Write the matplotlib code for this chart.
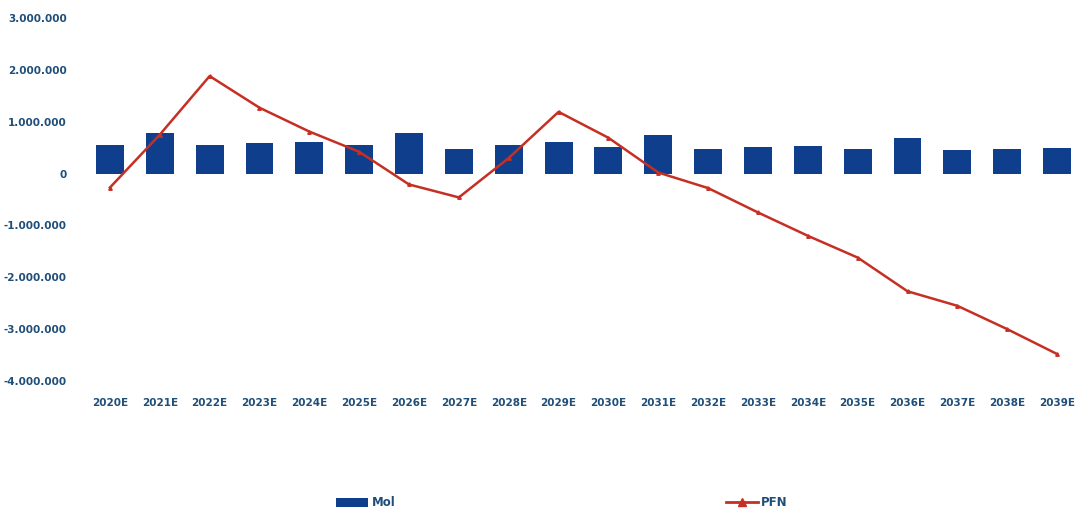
import numpy as np
import matplotlib.pyplot as plt
from matplotlib.ticker import FuncFormatter

years = ["2020E", "2021E", "2022E", "2023E", "2024E", "2025E", "2026E", "2027E", "2028E", "2029E",
         "2030E", "2031E", "2032E", "2033E", "2034E", "2035E", "2036E", "2037E", "2038E", "2039E"]
mol = [560000, 790000, 560000, 580000, 600000, 560000, 790000, 480000, 560000, 600000,
       520000, 750000, 480000, 520000, 540000, 480000, 690000, 460000, 480000, 500000]
pfn = [-270000, 750000, 1880000, 1270000, 810000, 420000, -210000, -460000, 300000, 1190000,
       690000, 20000, -280000, -750000, -1200000, -1620000, -2270000, -2550000, -3000000, -3480000]

txt_color = "#1f4e79"
bar_color = "#0f3f8c"
line_color = "#c62f24"

fig = plt.figure(figsize=(10.77, 5.13), dpi=100)
ax = fig.add_axes([85/1077, 1 - 381/513, 997/1077, 363/513])

x = np.arange(len(years))
bars = ax.bar(x, mol, width=0.56, color=bar_color, label="Mol", zorder=2)
line, = ax.plot(x, pfn, color=line_color, lw=1.8, marker="^", ms=2.5, label="PFN", zorder=3)

ax.set_xlim(-0.5, 19.5)
ax.set_ylim(-4000000, 3000000)
ax.set_yticks(np.arange(-4000000, 3000001, 1000000))
ax.yaxis.set_major_formatter(FuncFormatter(lambda v, p: "0" if v == 0 else f"{int(v):,}".replace(",", ".")))
ax.set_xticks(x)
ax.set_xticklabels(years)
ax.tick_params(length=0, labelsize=7.5, labelcolor=txt_color, pad=12)
ax.tick_params(axis="y", pad=13)
for lab in ax.get_xticklabels() + ax.get_yticklabels():
    lab.set_fontweight("bold")
for s in ax.spines.values():
    s.set_visible(False)

# legenda sotto il grafico, Mol a sinistra e PFN a destra
leg_line = plt.Line2D([], [], color=line_color, lw=2, marker="^", ms=6)
fig.legend([bars, leg_line], ["Mol", "PFN"], loc="center", bbox_to_anchor=(562/1077, 1 - 503/513),
           ncol=2, frameon=False, columnspacing=28, handlelength=2.7, handletextpad=0.3,
           prop={"size": 8.5, "weight": "bold"}, labelcolor=txt_color)

plt.savefig("out.png")
